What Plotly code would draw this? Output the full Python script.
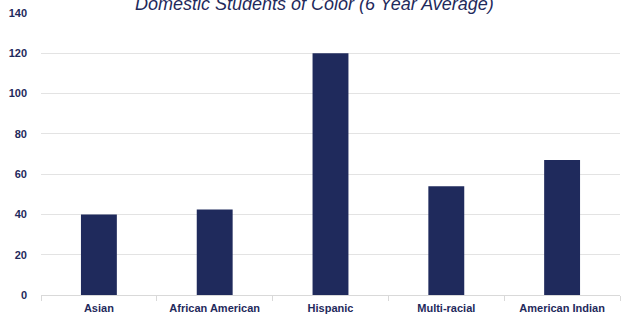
import plotly.graph_objects as go

categories = ["Asian", "African American", "Hispanic", "Multi-racial", "American Indian"]
values = [40, 42.5, 120, 54, 67]
y_ticks = [0, 20, 40, 60, 80, 100, 120, 140]
title_text = "Domestic Students of Color (6 Year Average)"

navy = "#1F2A5C"
fig = go.Figure(go.Bar(x=categories, y=values, marker=dict(color=navy, line=dict(width=0)), width=0.31))

fig.update_layout(
    width=621, height=320,
    margin=dict(l=41, r=1, t=13, b=25),
    paper_bgcolor="white", plot_bgcolor="white",
    showlegend=False,
    font=dict(family="Liberation Sans, Arial, sans-serif", color=navy),
    annotations=[dict(
        text=title_text, xref="paper", yref="paper",
        x=0.473, y=1.033, xanchor="center", yanchor="middle",
        showarrow=False,
        font=dict(size=18, color=navy, family="Liberation Sans, Arial, sans-serif", style="italic"),
    )],
)
fig.update_xaxes(
    showgrid=False, showline=True, linecolor="#D9D9D9", linewidth=1,
    ticks="outside", tickson="boundaries", ticklen=5, tickcolor="#D9D9D9",
    tickfont=dict(size=11, color=navy, weight="bold"),
    ticklabelstandoff=3,
    fixedrange=True,
)
fig.update_yaxes(
    range=[0, 140], tickvals=y_ticks, showgrid=True, gridcolor="#E3E3E3", gridwidth=1,
    zeroline=False, showline=False, ticks="", ticklabelstandoff=13,
    tickfont=dict(size=11, color=navy, weight="bold"),
)

fig.write_html("out.html", config={"displayModeBar": False},
               post_script="document.body.style.margin='0';")
